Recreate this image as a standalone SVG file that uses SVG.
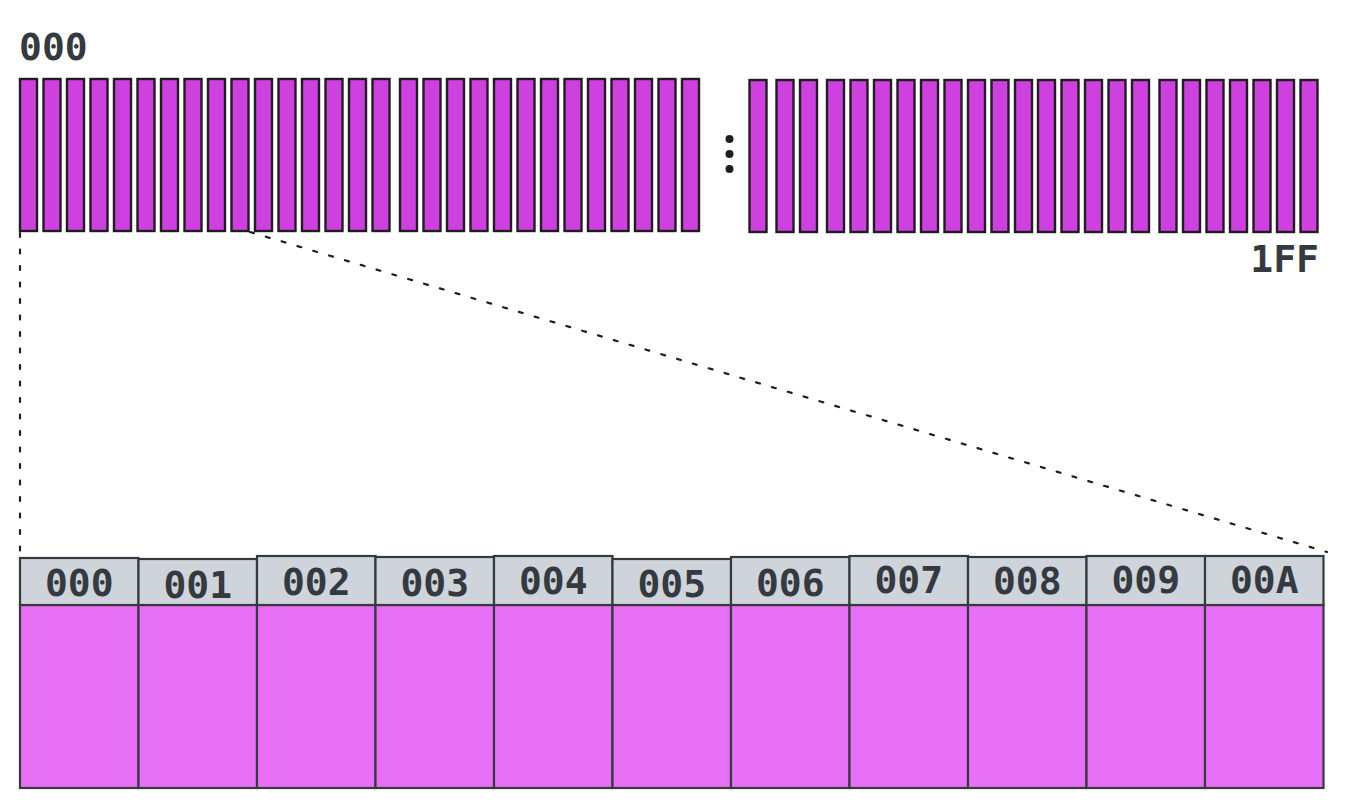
<svg xmlns="http://www.w3.org/2000/svg" width="1345" height="808" viewBox="0 0 1345 808">
<defs>
<style>
.bar{fill:#cf40e0;stroke:#1e1e1e;stroke-width:2.4}
.hdr{fill:#ced4da;stroke:#343a40;stroke-width:2.2}
.cell{fill:#e870f7;stroke:#343a40;stroke-width:2.2}
.lbl{font-family:"DejaVu Sans Mono","Liberation Mono",monospace;font-size:38px;font-weight:bold;fill:#343a40}
.ctr{text-anchor:middle}
.dot{fill:none;stroke:#1e1e1e;stroke-width:2.2;stroke-dasharray:4 12.5;stroke-linecap:round}
</style>
<rect id="b" class="bar" width="17" height="152"/>
</defs>
<rect width="1345" height="808" fill="#ffffff"/>
<g id="connectors">
<line class="dot" x1="20" y1="233" x2="20" y2="556"/>
<line class="dot" x1="250" y1="232" x2="1327" y2="552"/>
</g>
<g id="label-top-000"><text class="lbl" x="19" y="60">000</text></g>
<g id="label-top-1FF"><text class="lbl" x="1319" y="272" text-anchor="end">1FF</text></g>
<g id="bars-left">
<use href="#b" x="20" y="79"/><use href="#b" x="43.5" y="79"/><use href="#b" x="67" y="79"/><use href="#b" x="90.5" y="79"/>
<use href="#b" x="114" y="79"/><use href="#b" x="137.5" y="79"/><use href="#b" x="161" y="79"/><use href="#b" x="184.5" y="79"/>
<use href="#b" x="208" y="79"/><use href="#b" x="231.5" y="79"/><use href="#b" x="255" y="79"/><use href="#b" x="278.5" y="79"/>
<use href="#b" x="302" y="79"/><use href="#b" x="325.5" y="79"/><use href="#b" x="349" y="79"/><use href="#b" x="372.5" y="79"/>
<use href="#b" x="400" y="79"/><use href="#b" x="423.5" y="79"/><use href="#b" x="447" y="79"/><use href="#b" x="470.5" y="79"/>
<use href="#b" x="494" y="79"/><use href="#b" x="517.5" y="79"/><use href="#b" x="541" y="79"/><use href="#b" x="564.5" y="79"/>
<use href="#b" x="588" y="79"/><use href="#b" x="611.5" y="79"/><use href="#b" x="635" y="79"/><use href="#b" x="658.5" y="79"/>
<use href="#b" x="682" y="79"/>
</g>
<g id="ellipsis" fill="#1e1e1e">
<circle cx="729.5" cy="139" r="4"/><circle cx="729.5" cy="154" r="4"/><circle cx="729.5" cy="169" r="4"/>
</g>
<g id="bars-right">
<use href="#b" x="749.5" y="80"/><use href="#b" x="776.5" y="80"/><use href="#b" x="800" y="80"/><use href="#b" x="827" y="80"/>
<use href="#b" x="850.5" y="80"/><use href="#b" x="874" y="80"/><use href="#b" x="897.5" y="80"/><use href="#b" x="921" y="80"/>
<use href="#b" x="944.5" y="80"/><use href="#b" x="968" y="80"/><use href="#b" x="991.5" y="80"/><use href="#b" x="1015" y="80"/>
<use href="#b" x="1038" y="80"/><use href="#b" x="1061.5" y="80"/><use href="#b" x="1085" y="80"/><use href="#b" x="1108.5" y="80"/>
<use href="#b" x="1132" y="80"/><use href="#b" x="1159.5" y="80"/><use href="#b" x="1183" y="80"/><use href="#b" x="1206.5" y="80"/>
<use href="#b" x="1230" y="80"/><use href="#b" x="1253.5" y="80"/><use href="#b" x="1277" y="80"/><use href="#b" x="1300.5" y="80"/>
</g>
<g id="cell-000"><rect class="cell" x="20" y="605" width="118.5" height="183"/><rect class="hdr" x="20" y="558" width="118.5" height="47"/><text class="lbl ctr" x="79.2" y="596">000</text></g>
<g id="cell-001"><rect class="cell" x="138.5" y="605" width="118.5" height="183"/><rect class="hdr" x="138.5" y="559" width="118.5" height="46"/><text class="lbl ctr" x="197.7" y="598">001</text></g>
<g id="cell-002"><rect class="cell" x="257" y="605" width="118.5" height="183"/><rect class="hdr" x="257" y="556" width="118.5" height="49"/><text class="lbl ctr" x="316.2" y="595">002</text></g>
<g id="cell-003"><rect class="cell" x="375.5" y="605" width="118.5" height="183"/><rect class="hdr" x="375.5" y="557" width="118.5" height="48"/><text class="lbl ctr" x="434.7" y="596">003</text></g>
<g id="cell-004"><rect class="cell" x="494" y="605" width="118.5" height="183"/><rect class="hdr" x="494" y="556" width="118.5" height="49"/><text class="lbl ctr" x="553.2" y="594">004</text></g>
<g id="cell-005"><rect class="cell" x="612.5" y="605" width="118.5" height="183"/><rect class="hdr" x="612.5" y="559" width="118.5" height="46"/><text class="lbl ctr" x="671.7" y="597">005</text></g>
<g id="cell-006"><rect class="cell" x="731" y="605" width="118.5" height="183"/><rect class="hdr" x="731" y="557" width="118.5" height="48"/><text class="lbl ctr" x="790.2" y="596">006</text></g>
<g id="cell-007"><rect class="cell" x="849.5" y="605" width="118.5" height="183"/><rect class="hdr" x="849.5" y="556" width="118.5" height="49"/><text class="lbl ctr" x="908.7" y="593">007</text></g>
<g id="cell-008"><rect class="cell" x="968" y="605" width="118.5" height="183"/><rect class="hdr" x="968" y="557" width="118.5" height="48"/><text class="lbl ctr" x="1027.2" y="594">008</text></g>
<g id="cell-009"><rect class="cell" x="1086.5" y="605" width="118.5" height="183"/><rect class="hdr" x="1086.5" y="556" width="118.5" height="49"/><text class="lbl ctr" x="1145.7" y="593">009</text></g>
<g id="cell-00A"><rect class="cell" x="1205" y="605" width="118.5" height="183"/><rect class="hdr" x="1205" y="556" width="118.5" height="49"/><text class="lbl ctr" x="1264.2" y="593">00A</text></g>
</svg>
